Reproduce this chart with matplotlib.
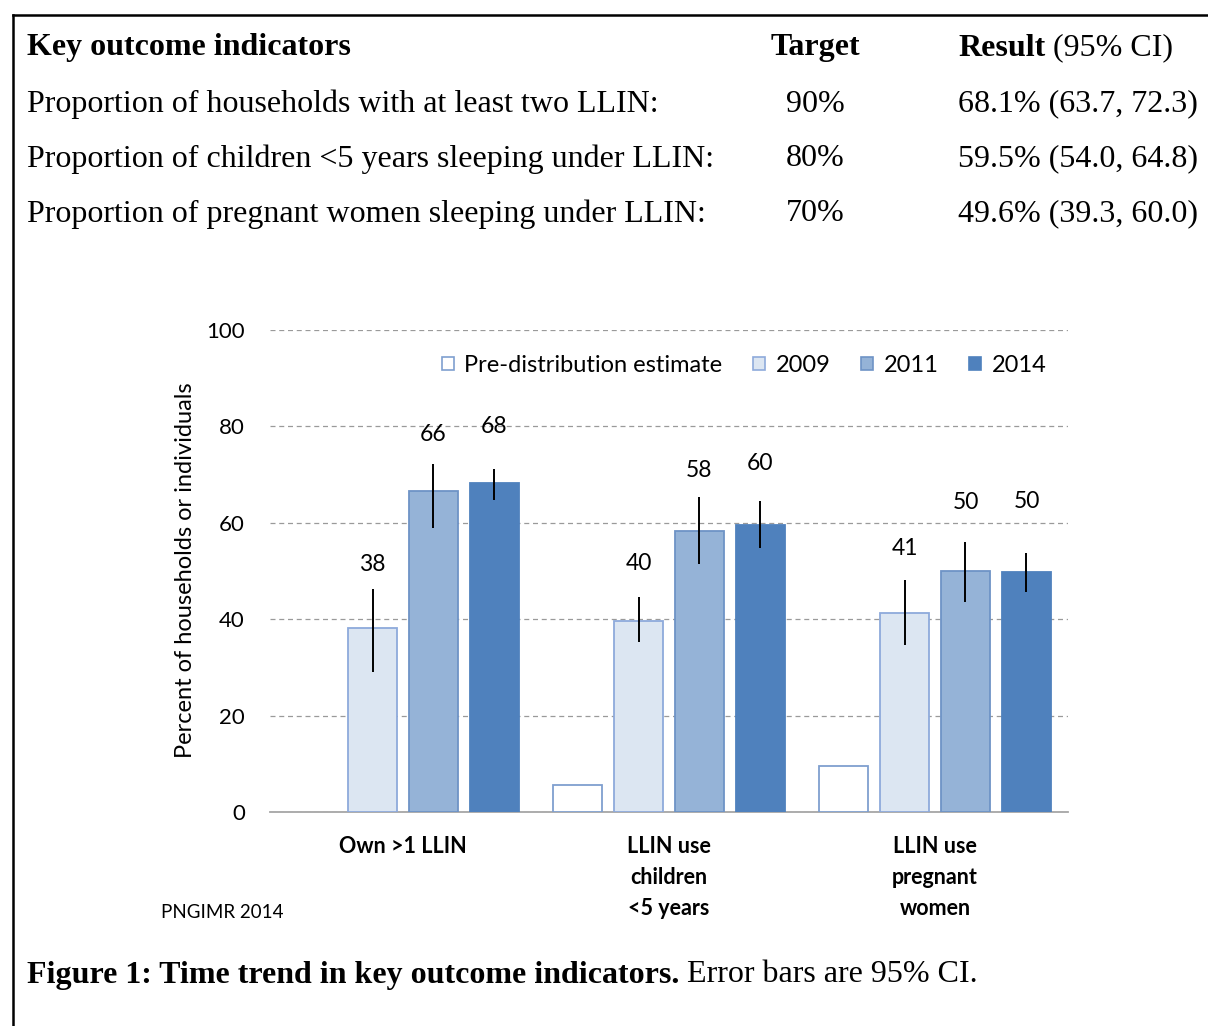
import numpy as np
import matplotlib.pyplot as plt
from matplotlib.patches import Patch
from matplotlib.lines import Line2D

# Indicator table above the chart
table_head = ["Key outcome indicators", "Target", "Result"]
indicators = ["Proportion of households with at least two LLIN:",
              "Proportion of children <5 years sleeping under LLIN:",
              "Proportion of pregnant women sleeping under LLIN:"]
targets = ["90%", "80%", "70%"]
results = ["68.1% (63.7, 72.3)", "59.5% (54.0, 64.8)", "49.6% (39.3, 60.0)"]

# Bar chart data (percent), one list per survey
categories = ["Own >1 LLIN", "LLIN use\nchildren\n<5 years", "LLIN use\npregnant\nwomen"]
series = ["Pre-distribution estimate", "2009", "2011", "2014"]
pre_dist = [np.nan, 5.7, 9.5]
y2009 = [38.3, 39.6, 41.3]
y2011 = [66.5, 58.3, 50.0]
y2014 = [68.2, 59.5, 49.8]
lo2009 = [29.1, 35.2, 34.6]
hi2009 = [46.3, 44.7, 48.1]
lo2011 = [59.0, 51.4, 43.6]
hi2011 = [72.1, 65.4, 56.0]
lo2014 = [64.7, 54.7, 45.6]
hi2014 = [71.2, 64.5, 53.7]
labels2009 = ["38", "40", "41"]
labels2011 = ["66", "58", "50"]
labels2014 = ["68", "60", "50"]

# heights where the value labels sit
label_y = [[51.3, 51.6, 54.7], [78.2, 70.8, 64.2], [79.9, 72.2, 64.4]]

W, H = 1208, 1026
fig = plt.figure(figsize=(W / 100, H / 100), dpi=100)


def px(x, y):
    return x / W, 1 - y / H


serif = "Liberation Serif"
sans = "Lato"
fs_tab = 23

# frame lines
fig.add_artist(Line2D([12.5 / W, 1.0], [1 - 15 / H] * 2, color="black", lw=1.8))
fig.add_artist(Line2D([12.5 / W] * 2, [1 - 15 / H, 0.0], color="black", lw=1.8))

fig.text(*px(27, 48), table_head[0], family=serif, weight="bold", size=fs_tab, va="center")
fig.text(*px(815, 48), table_head[1], family=serif, weight="bold", size=fs_tab, va="center", ha="center")
t = fig.text(*px(958, 48), table_head[2], family=serif, weight="bold", size=fs_tab, va="center")
for i, (ind, tg, res) in enumerate(zip(indicators, targets, results)):
    yy = 104 + 55 * i
    fig.text(*px(27, yy), ind, family=serif, size=fs_tab, va="center")
    fig.text(*px(815, yy), tg, family=serif, size=fs_tab, va="center", ha="center")
    fig.text(*px(958, yy), res, family=serif, size=fs_tab, va="center")

cap = fig.text(*px(27, 975), "Figure 1: Time trend in key outcome indicators.",
               family=serif, weight="bold", size=fs_tab, va="center")

# put the regular parts right after the bold ones
fig.canvas.draw()
r = fig.canvas.get_renderer()
e = t.get_window_extent(r)
fig.text(e.x1 / W, 1 - 48 / H, " (95% CI)", family=serif, size=fs_tab, va="center")
e = cap.get_window_extent(r)
fig.text(e.x1 / W, 1 - 975 / H, " Error bars are 95% CI.", family=serif, size=fs_tab, va="center")

# chart
ax = fig.add_axes([270 / W, 1 - 812.3 / H, 798 / W, 482.5 / H])
x = np.arange(len(categories))
step = 0.2293
bw = 0.184
fills = ["white", "#DCE6F2", "#95B3D7", "#4F81BD"]
edges = ["#7F9FCF", "#8EAADB", "#6E93C6", "#4F81BD"]
vals = [pre_dist, y2009, y2011, y2014]
los = [None, lo2009, lo2011, lo2014]
his = [None, hi2009, hi2011, hi2014]
labs = [None, labels2009, labels2011, labels2014]

for k, v in enumerate(vals):
    xs = x + (k - 1.5) * step
    ok = ~np.isnan(np.array(v, dtype=float))
    ax.bar(xs[ok], np.array(v)[ok], width=bw, color=fills[k], edgecolor=edges[k], lw=1.3, zorder=3)
    if los[k] is not None:
        ax.vlines(xs, los[k], his[k], color="black", lw=1.4, zorder=4)
        for xi, yl, s in zip(xs, label_y[k - 1], labs[k]):
            ax.text(xi, yl, s, ha="center", va="center", family=sans, size=16.5, zorder=5)

ax.set_xlim(-0.5, 2.5)
ax.set_ylim(0, 100)
ax.set_yticks([0, 20, 40, 60, 80, 100])
ax.yaxis.grid(True, ls=(0, (4, 3)), color="#9A9A9A", lw=0.9)
ax.set_axisbelow(True)
for s in ["top", "right", "left"]:
    ax.spines[s].set_visible(False)
ax.spines["bottom"].set_color("#A6A6A6")
ax.spines["bottom"].set_linewidth(1.3)
ax.tick_params(axis="y", length=0, pad=18, labelsize=16)
ax.tick_params(axis="x", length=0, pad=17)
for lab in ax.get_yticklabels():
    lab.set_family(sans)
ax.set_xticks(x)
ax.set_xticklabels(categories, family=sans, weight="bold", size=15.5, linespacing=1.6, va="top")

fig.text(*px(185, 570), "Percent of households or individuals", rotation=90,
         ha="center", va="center", family=sans, size=17)
fig.text(*px(161, 912), "PNGIMR 2014", family=sans, size=13.5, va="center")

handles = [Patch(facecolor=f, edgecolor=e, lw=1.2) for f, e in zip(fills, edges)]
ax.legend(handles, series, ncol=4, frameon=False, loc="center",
          bbox_to_anchor=(0.594, 0.926), handlelength=0.5, handleheight=0.5,
          handletextpad=0.45, columnspacing=1.3, prop={"family": sans, "size": 17})

fig.savefig("out.png", dpi=100)
